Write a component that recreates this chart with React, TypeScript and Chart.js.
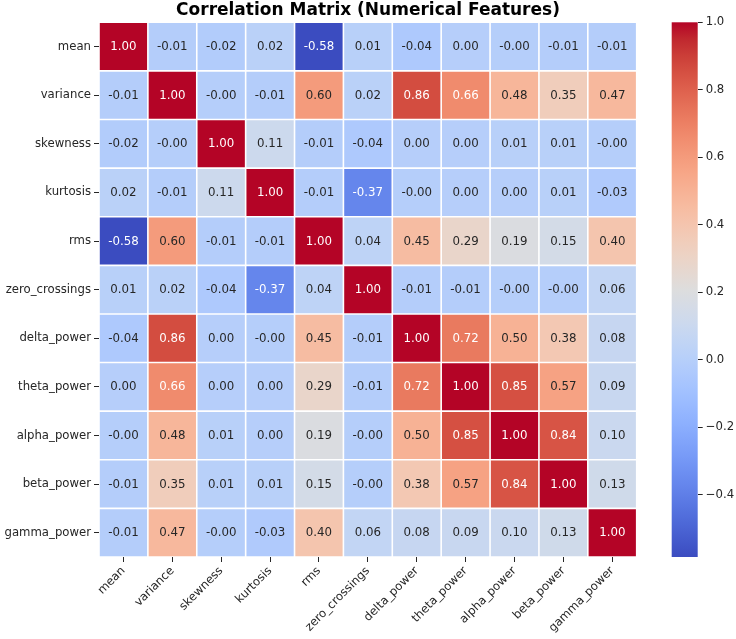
import React, { useEffect, useRef } from 'react';
import { Chart, registerables } from 'chart.js';

Chart.register(...registerables);

// ---------- data ----------
const TITLE = 'Correlation Matrix (Numerical Features)';
const FEATURES = [
  'mean', 'variance', 'skewness', 'kurtosis', 'rms', 'zero_crossings',
  'delta_power', 'theta_power', 'alpha_power', 'beta_power', 'gamma_power',
];

const ROW_MEAN = [1.0, -0.01, -0.02, 0.02, -0.584, 0.01, -0.04, 0.001, -0.003, -0.01, -0.01];
const ROW_VARIANCE = [-0.01, 1.0, -0.003, -0.01, 0.6, 0.02, 0.86, 0.66, 0.48, 0.35, 0.47];
const ROW_SKEWNESS = [-0.02, -0.003, 1.0, 0.11, -0.01, -0.04, 0.001, 0.001, 0.01, 0.01, -0.003];
const ROW_KURTOSIS = [0.02, -0.01, 0.11, 1.0, -0.01, -0.37, -0.003, 0.001, 0.001, 0.01, -0.03];
const ROW_RMS = [-0.584, 0.6, -0.01, -0.01, 1.0, 0.04, 0.45, 0.29, 0.19, 0.15, 0.4];
const ROW_ZERO_CROSSINGS = [0.01, 0.02, -0.04, -0.37, 0.04, 1.0, -0.01, -0.01, -0.003, -0.003, 0.06];
const ROW_DELTA = [-0.04, 0.86, 0.001, -0.003, 0.45, -0.01, 1.0, 0.72, 0.5, 0.38, 0.08];
const ROW_THETA = [0.001, 0.66, 0.001, 0.001, 0.29, -0.01, 0.72, 1.0, 0.85, 0.57, 0.09];
const ROW_ALPHA = [-0.003, 0.48, 0.01, 0.001, 0.19, -0.003, 0.5, 0.85, 1.0, 0.84, 0.1];
const ROW_BETA = [-0.01, 0.35, 0.01, 0.01, 0.15, -0.003, 0.38, 0.57, 0.84, 1.0, 0.13];
const ROW_GAMMA = [-0.01, 0.47, -0.003, -0.03, 0.4, 0.06, 0.08, 0.09, 0.1, 0.13, 1.0];

const CORR = [
  ROW_MEAN, ROW_VARIANCE, ROW_SKEWNESS, ROW_KURTOSIS, ROW_RMS, ROW_ZERO_CROSSINGS,
  ROW_DELTA, ROW_THETA, ROW_ALPHA, ROW_BETA, ROW_GAMMA,
];

const CB_TICKS = [-0.4, -0.2, 0.0, 0.2, 0.4, 0.6, 0.8, 1.0];

const VMIN = Math.min(...CORR.flat());
const VMAX = Math.max(...CORR.flat());

// ---------- colormap (matplotlib coolwarm) ----------
const COOLWARM: number[][] = [
  [0.2298057, 0.298717966, 0.753683153],
  [0.26623388, 0.353094838, 0.801466763],
  [0.30386891, 0.406535296, 0.84495867],
  [0.342804478, 0.458757618, 0.883725899],
  [0.38301334, 0.50941904, 0.917387822],
  [0.424369608, 0.558148092, 0.945619588],
  [0.46666708, 0.604562568, 0.968154911],
  [0.509635204, 0.648280772, 0.98478814],
  [0.552953156, 0.688929332, 0.995375608],
  [0.596262162, 0.726149107, 0.999836203],
  [0.639176211, 0.759599947, 0.998151185],
  [0.681291281, 0.788964712, 0.990363227],
  [0.722193294, 0.813952739, 0.976574709],
  [0.761464949, 0.834302879, 0.956945269],
  [0.798691636, 0.849786142, 0.931688648],
  [0.833466556, 0.860207984, 0.901068838],
  [0.865395197, 0.86541021, 0.865395561],
  [0.897787179, 0.848937047, 0.820880546],
  [0.924127593, 0.827384882, 0.774508472],
  [0.944468518, 0.800927443, 0.726736146],
  [0.958852946, 0.769767752, 0.678007945],
  [0.96732803, 0.734132809, 0.628751763],
  [0.969954137, 0.694266682, 0.579375448],
  [0.966811177, 0.650421156, 0.530263762],
  [0.958003065, 0.602842431, 0.481775914],
  [0.943660866, 0.551750968, 0.434243684],
  [0.923944917, 0.497308236, 0.387970225],
  [0.89904617, 0.439559467, 0.343229596],
  [0.869186849, 0.378313092, 0.300267182],
  [0.834620542, 0.312874446, 0.259301199],
  [0.795631745, 0.24128379, 0.220525627],
  [0.752534934, 0.157246067, 0.184115123],
  [0.705673158, 0.01555616, 0.150232812],
];

function cmap(v: number): number[] {
  let t = (v - VMIN) / (VMAX - VMIN);
  t = Math.max(0, Math.min(1, t));
  const f = t * (COOLWARM.length - 1);
  const i = Math.min(Math.floor(f), COOLWARM.length - 2);
  const r = f - i;
  const a = COOLWARM[i];
  const b = COOLWARM[i + 1];
  return [0, 1, 2].map((k) => a[k] + (b[k] - a[k]) * r);
}

function toCss(c: number[]): string {
  return `rgb(${Math.round(c[0] * 255)},${Math.round(c[1] * 255)},${Math.round(c[2] * 255)})`;
}

function textColor(v: number): string {
  const c = cmap(v).map((x) => (x <= 0.03928 ? x / 12.92 : Math.pow((x + 0.055) / 1.055, 2.4)));
  const lum = 0.2126 * c[0] + 0.7152 * c[1] + 0.0722 * c[2];
  return lum > 0.408 ? '#262626' : '#ffffff';
}

const FONT_FAMILY = '"DejaVu Sans", sans-serif';
const TICK_COLOR = '#262626';

const annotationPlugin = {
  id: 'heatAnnotations',
  afterDatasetsDraw(chart: any) {
    const ctx = chart.ctx;
    ctx.save();
    ctx.font = `11.8px ${FONT_FAMILY}`;
    ctx.textAlign = 'center';
    ctx.textBaseline = 'middle';
    chart.data.datasets.forEach((_ds: any, i: number) => {
      const meta = chart.getDatasetMeta(i);
      meta.data.forEach((el: any, j: number) => {
        const v = CORR[i][j];
        const p = el.getProps(['x', 'y', 'base'], true);
        ctx.fillStyle = textColor(v);
        ctx.fillText(v.toFixed(2), p.x, (p.y + p.base) / 2 + 0.5);
      });
    });
    ctx.restore();
  },
};

const colorbarPlugin = {
  id: 'colorbar',
  afterDatasetsDraw(chart: any) {
    const cb = chart.scales.cb;
    if (!cb) return;
    const ctx = chart.ctx;
    const x1 = cb.left;
    const w = 26;
    const yTop = cb.getPixelForValue(VMAX);
    const yBot = cb.getPixelForValue(VMIN);
    const g = ctx.createLinearGradient(0, yBot, 0, yTop);
    COOLWARM.forEach((c, k) => g.addColorStop(k / (COOLWARM.length - 1), toCss(c)));
    ctx.save();
    ctx.fillStyle = g;
    ctx.fillRect(x1 - w, yTop, w, yBot - yTop);
    ctx.restore();
  },
};

export default function App() {
  const ref = useRef<HTMLCanvasElement | null>(null);

  useEffect(() => {
    if (!ref.current) return;
    Chart.defaults.font.family = FONT_FAMILY;

    const datasets = CORR.map((row, i) => ({
      label: FEATURES[i],
      data: row.map(() => [i, i + 1]),
      backgroundColor: row.map((v) => toCss(cmap(v))),
      borderColor: '#ffffff',
      borderWidth: 0.8,
      borderSkipped: false,
      inflateAmount: 0,
      grouped: false,
      barPercentage: 1,
      categoryPercentage: 1,
    }));

    const chart = new Chart(ref.current, {
      type: 'bar',
      data: { labels: FEATURES, datasets: datasets as any },
      plugins: [annotationPlugin, colorbarPlugin],
      options: {
        responsive: false,
        animation: false,
        events: [],
        layout: { padding: 0 },
        plugins: {
          legend: { display: false },
          tooltip: { enabled: false },
          title: {
            display: true,
            text: TITLE,
            color: '#000000',
            font: { family: FONT_FAMILY, size: 17, weight: 'bold', lineHeight: 18 / 17 },
            padding: { top: 1.5, bottom: 2.8 },
          },
        },
        scales: {
          x: {
            type: 'category',
            offset: true,
            grid: { display: true, drawOnChartArea: false, drawTicks: true, tickLength: 5, offset: false, color: TICK_COLOR, lineWidth: 1 },
            border: { display: false },
            ticks: {
              autoSkip: false,
              minRotation: 45,
              maxRotation: 45,
              padding: 2,
              color: TICK_COLOR,
              font: { family: FONT_FAMILY, size: 11.7 },
            },
            afterFit: (s: any) => { s.height = 82; },
          },
          y: {
            type: 'linear',
            position: 'left',
            min: 0,
            max: FEATURES.length,
            reverse: true,
            grid: { display: true, drawOnChartArea: false, drawTicks: true, tickLength: 5, color: TICK_COLOR, lineWidth: 1 },
            border: { display: false },
            afterBuildTicks: (s: any) => { s.ticks = FEATURES.map((_f, i) => ({ value: i + 0.5 })); },
            ticks: {
              autoSkip: false,
              padding: 3,
              color: TICK_COLOR,
              font: { family: FONT_FAMILY, size: 11.7 },
              callback: (value: any) => FEATURES[Math.floor(Number(value))],
            },
            afterFit: (s: any) => { s.width = 99; },
          },
          spacer: {
            type: 'linear',
            position: 'right',
            weight: 1,
            display: true,
            grid: { display: false },
            border: { display: false },
            ticks: { display: false },
            afterFit: (s: any) => { s.width = 61; },
          },
          cb: {
            type: 'linear',
            position: 'right',
            weight: 2,
            min: VMIN,
            max: VMAX,
            grid: { display: true, drawOnChartArea: false, drawTicks: true, tickLength: 5, color: TICK_COLOR, lineWidth: 1 },
            border: { display: false },
            afterBuildTicks: (s: any) => { s.ticks = CB_TICKS.map((v) => ({ value: v })); },
            ticks: {
              autoSkip: false,
              padding: 3,
              color: TICK_COLOR,
              font: { family: FONT_FAMILY, size: 11.7 },
              callback: (value: any) => {
                const v = Number(value);
                return (v < 0 ? '\u2212' : '') + Math.abs(v).toFixed(1);
              },
            },
            afterFit: (s: any) => { s.width = 38.3; },
          },
        } as any,
      },
    });

    return () => chart.destroy();
  }, []);

  return (
    <div style={{ position: 'absolute', left: 0, top: 0, width: 736, height: 639 }}>
      <canvas ref={ref} width={736} height={639} style={{ display: 'block' }} />
    </div>
  );
}
